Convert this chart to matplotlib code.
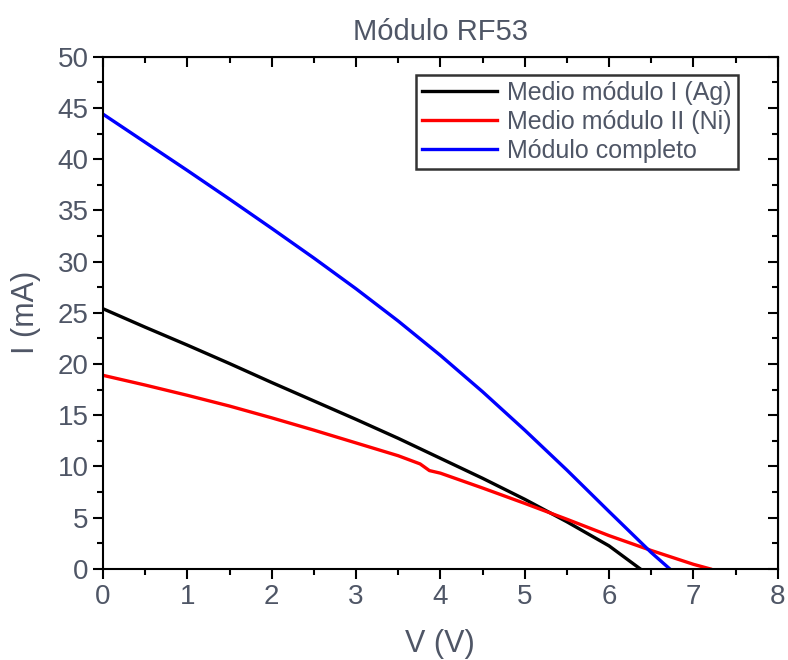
import matplotlib
matplotlib.use('Agg')
import matplotlib.pyplot as plt
from matplotlib.ticker import MultipleLocator

# Medio modulo I (Ag)
v_ag = [0, 0.5, 1, 1.5, 2, 2.5, 3, 3.5, 4, 4.5, 5, 5.5, 6, 6.37]
i_ag = [25.4, 23.6, 21.85, 20.05, 18.2, 16.4, 14.6, 12.75, 10.8, 8.85, 6.8, 4.6, 2.25, 0.0]

# Medio modulo II (Ni)
v_ni = [0, 0.5, 1, 1.5, 2, 2.5, 3, 3.5, 3.76, 3.87, 4, 4.5, 5, 5.5, 6, 6.5, 7, 7.2]
i_ni = [18.9, 17.95, 16.95, 15.9, 14.75, 13.55, 12.3, 11.05, 10.25, 9.6, 9.35, 7.9, 6.4, 4.85, 3.25, 1.8, 0.45, 0.0]

# Modulo completo
v_full = [0, 0.5, 1, 1.5, 2, 2.5, 3, 3.5, 4, 4.5, 5, 5.5, 6, 6.5, 6.72]
i_full = [44.4, 41.65, 38.9, 36.1, 33.25, 30.35, 27.35, 24.2, 20.85, 17.3, 13.55, 9.65, 5.6, 1.6, 0.0]

txt = '#4f5666'
plt.rcParams['font.family'] = ['Liberation Sans', 'DejaVu Sans']

fig = plt.figure(figsize=(7.88, 6.6), dpi=100)
ax = fig.add_axes([0.1307, 0.138, 0.8563, 0.776])

ax.plot(v_ag, i_ag, color='black', lw=2.4, label='Medio módulo I (Ag)')
ax.plot(v_ni, i_ni, color='red', lw=2.4, label='Medio módulo II (Ni)')
ax.plot(v_full, i_full, color='blue', lw=2.4, label='Módulo completo')

ax.set_xlim(0, 8)
ax.set_ylim(0, 50)
ax.xaxis.set_major_locator(MultipleLocator(1))
ax.xaxis.set_minor_locator(MultipleLocator(0.5))
ax.yaxis.set_major_locator(MultipleLocator(5))
ax.yaxis.set_minor_locator(MultipleLocator(2.5))
ax.tick_params(which='both', direction='out', width=1.5, colors='black', labelcolor=txt, labelsize=20)
ax.tick_params(which='major', length=7)
ax.tick_params(which='minor', length=4)
for s in ax.spines.values():
    s.set_linewidth(1.5)

# ticks on top and right point inwards
top = ax.secondary_xaxis('top')
top.xaxis.set_major_locator(MultipleLocator(1))
top.xaxis.set_minor_locator(MultipleLocator(0.5))
top.tick_params(which='both', direction='in', width=1.5, labeltop=False)
top.tick_params(which='major', length=7)
top.tick_params(which='minor', length=4)
right = ax.secondary_yaxis('right')
right.yaxis.set_major_locator(MultipleLocator(5))
right.yaxis.set_minor_locator(MultipleLocator(2.5))
right.tick_params(which='both', direction='in', width=1.5, labelright=False)
right.tick_params(which='major', length=7)
right.tick_params(which='minor', length=4)

ax.set_xlabel('V (V)', fontsize=22, color=txt, labelpad=14)
ax.set_ylabel('I (mA)', fontsize=22, color=txt, labelpad=12)
ax.set_title('Módulo RF53', fontsize=21, color=txt, pad=12)

leg = ax.legend(loc='upper right', bbox_to_anchor=(0.941, 0.965), fontsize=18, frameon=True,
                fancybox=False, edgecolor='black', handlelength=3.0, borderpad=0.25,
                labelspacing=0.2, handletextpad=0.4, borderaxespad=0)
leg.get_frame().set_linewidth(1.8)
for t in leg.get_texts():
    t.set_color(txt)

fig.savefig('out.png', dpi=100)
